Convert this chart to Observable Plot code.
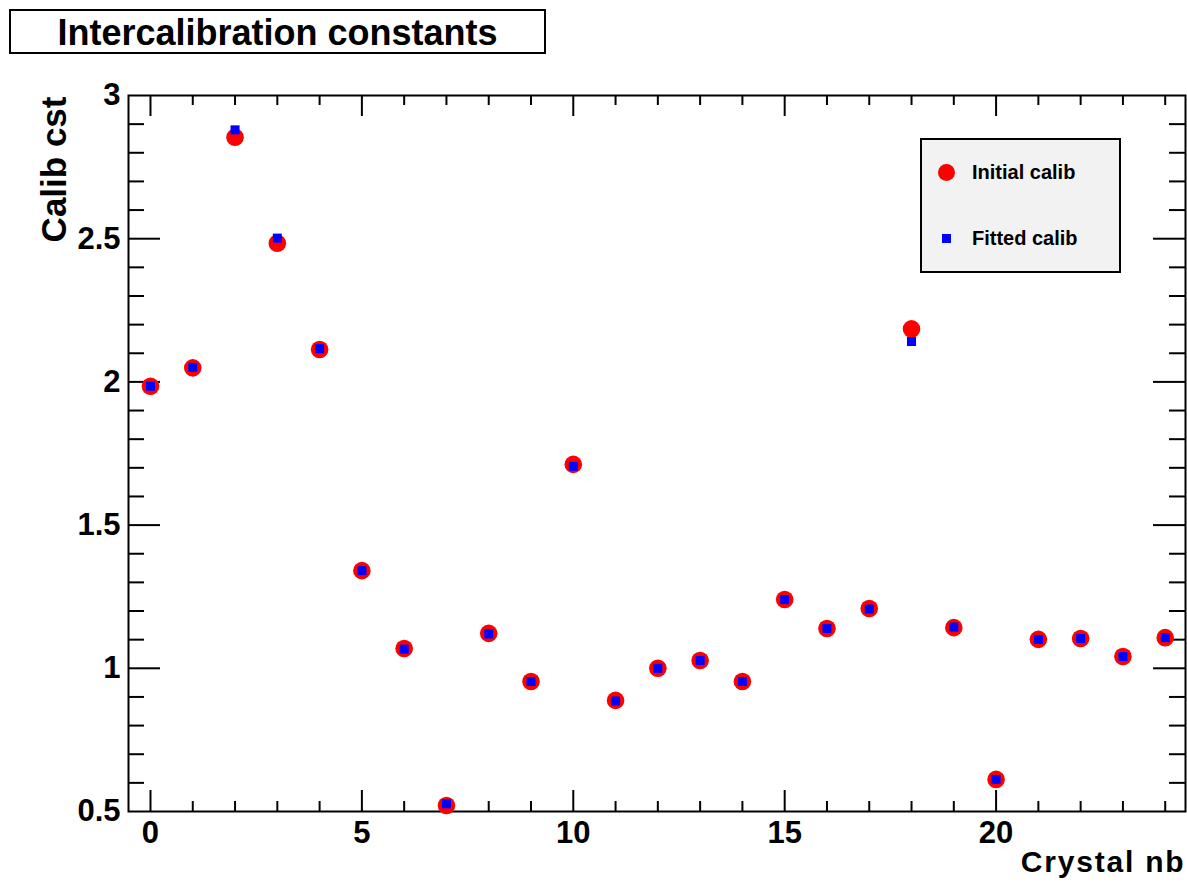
<!DOCTYPE html>
<html><head><meta charset="utf-8">
<script src="https://cdn.jsdelivr.net/npm/d3@7"></script>
<script src="https://cdn.jsdelivr.net/npm/@observablehq/plot@0.6"></script>
<style>
html,body{margin:0;padding:0;background:#fff;}
#wrap{position:relative;width:1187px;height:885px;font-family:"Liberation Sans",Arial,Helvetica,sans-serif;font-weight:bold;color:#000;}
#chart{position:absolute;left:0;top:0;}
#title{position:absolute;left:9px;top:9px;width:533px;height:41px;border:2px solid #000;background:#fff;font-size:36px;text-align:center;line-height:43px;}
#legend{position:absolute;left:920px;top:138px;width:197px;height:131px;border:2px solid #000;background:#f2f2f2;}
.li{position:absolute;left:50px;font-size:20px;line-height:20px;white-space:nowrap;}
.mk{position:absolute;}
</style></head>
<body>
<div id="wrap">
  <div id="chart"></div>
  <div id="title"></div>
  <div id="legend"></div>
</div>
<script>
// ---- data ----
const crystals = [0,1,2,3,4,5,6,7,8,9,10,11,12,13,14,15,16,17,18,19,20,21,22,23,24];
const initialCalib = [1.985,2.049,2.854,2.484,2.113,1.341,1.069,0.521,1.122,0.954,1.712,0.888,1.0,1.027,0.954,1.240,1.139,1.209,2.185,1.142,0.612,1.101,1.104,1.041,1.107];
const fittedCalib  = [1.985,2.051,2.880,2.502,2.116,1.341,1.067,0.527,1.120,0.954,1.705,0.886,1.0,1.027,0.954,1.240,1.139,1.207,2.141,1.144,0.612,1.101,1.104,1.041,1.107];
const seriesNames = ["Initial calib", "Fitted calib"];
const titleText = "Intercalibration constants";
const xTitle = "Crystal nb";
const yTitle = "Calib cst";
const xLabelTicks = [0,5,10,15,20];
const xMinorTicks = [0,1,2,3,4,5,6,7,8,9,10,11,12,13,14,15,16,17,18,19,20,21,22,23,24];
const yLabelTicks = [0.5,1,1.5,2,2.5,3];
const yMinorTicks = [0.6,0.7,0.8,0.9,1.1,1.2,1.3,1.4,1.6,1.7,1.8,1.9,2.1,2.2,2.3,2.4,2.6,2.7,2.8,2.9];
const yMajorTicks = [1,1.5,2,2.5];

const rows = crystals.map((c, i) => ({crystal: c, initial: initialCalib[i], fitted: fittedCalib[i]}));

// ---- layout ----
const W = 1187, H = 885;
const mTop = 95, mBottom = 74, mLeft = 128, mRight = 2;
const frameW = W - mLeft - mRight, frameH = H - mTop - mBottom;
const xMajor = xMinorTicks.filter(d => xLabelTicks.includes(d));
const xMinor = xMinorTicks.filter(d => !xLabelTicks.includes(d));

const chart = Plot.plot({
  width: W, height: H,
  marginTop: mTop, marginBottom: mBottom, marginLeft: mLeft, marginRight: mRight,
  style: {background: "#fff", fontFamily: "'Liberation Sans', Arial, Helvetica, sans-serif", fontWeight: "bold", color: "#000"},
  x: {domain: [-0.52, 24.48]},
  y: {domain: [0.5, 3]},
  marks: [
    // bottom & top ticks (pointing inward)
    Plot.ruleX(xMinor, {insetTop: frameH - 10, stroke: "#000", strokeWidth: 2}),
    Plot.ruleX(xMajor, {insetTop: frameH - 21, stroke: "#000", strokeWidth: 2}),
    Plot.ruleX(xMinor, {insetBottom: frameH - 10, stroke: "#000", strokeWidth: 2}),
    Plot.ruleX(xMajor, {insetBottom: frameH - 21, stroke: "#000", strokeWidth: 2}),
    // left & right ticks
    Plot.ruleY(yMinorTicks, {insetRight: frameW - 16, stroke: "#000", strokeWidth: 2}),
    Plot.ruleY(yMajorTicks, {insetRight: frameW - 32, stroke: "#000", strokeWidth: 2}),
    Plot.ruleY(yMinorTicks, {insetLeft: frameW - 16, stroke: "#000", strokeWidth: 2}),
    Plot.ruleY(yMajorTicks, {insetLeft: frameW - 32, stroke: "#000", strokeWidth: 2}),
    Plot.frame({stroke: "#000", strokeWidth: 2}),
    // data
    Plot.dot(rows, {x: "crystal", y: "initial", r: 8.8, fill: "#ff0000", stroke: "none"}),
    Plot.dot(rows, {x: "crystal", y: "fitted", symbol: "square", r: 5.1, fill: "#0000ff", stroke: "none"}),
    // axes
    Plot.axisX(xLabelTicks, {tickSize: 0, tickPadding: 9, fontSize: 31, fontWeight: "bold", label: null, tickFormat: d => String(d), fill: "#000"}),
    Plot.axisY(yLabelTicks, {tickSize: 0, tickPadding: 8, fontSize: 31, fontWeight: "bold", label: null, tickFormat: d => String(d), fill: "#000"}),
    // axis titles
    Plot.text([xTitle], {frameAnchor: "bottom-right", text: d => d, textAnchor: "end", lineAnchor: "bottom", dy: 60, dx: 0, fontSize: 30, fontWeight: "bold", fill: "#000"}),
    Plot.text([yTitle], {frameAnchor: "top-left", text: d => d, rotate: -90, textAnchor: "end", lineAnchor: "bottom", dx: -63, dy: 1, fontSize: 35, fontWeight: "bold", fill: "#000"})
  ]
});
// widen the x-axis title like the reference
d3.select(chart).selectAll("text").filter(function() { return this.textContent === xTitle; })
  .style("letter-spacing", "1.8px");
document.getElementById("chart").append(chart);

// title box
document.getElementById("title").textContent = titleText;

// legend
const legend = document.getElementById("legend");
legend.innerHTML =
  `<div class="mk" style="left:16px;top:24px;width:17px;height:17px;border-radius:50%;background:#ff0000"></div>` +
  `<div class="li" style="top:22px">${seriesNames[0]}</div>` +
  `<div class="mk" style="left:20px;top:94px;width:9px;height:9px;background:#0000ff"></div>` +
  `<div class="li" style="top:88px">${seriesNames[1]}</div>`;
</script>
</body></html>
